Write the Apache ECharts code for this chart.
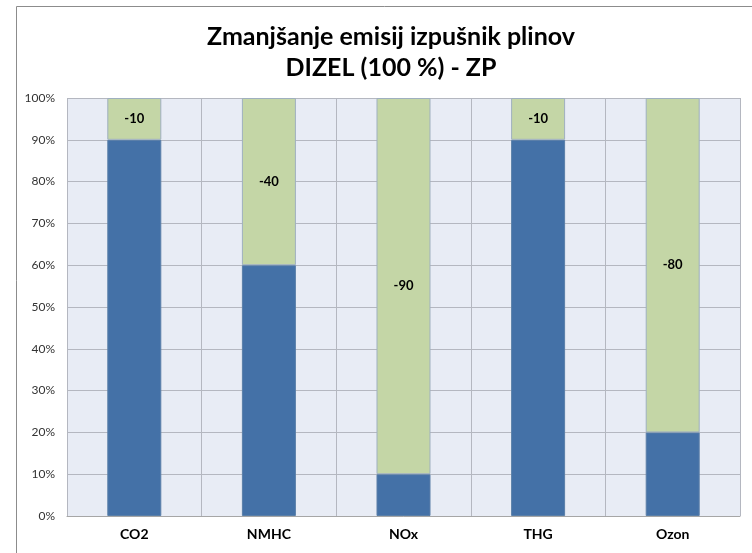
<!DOCTYPE html>
<html>
<head>
<meta charset="utf-8">
<script src="https://cdn.jsdelivr.net/npm/echarts@6/dist/echarts.min.js"></script>
<style>
  html, body { margin: 0; padding: 0; background: #fff; }
  #chart { width: 752px; height: 553px; }
</style>
</head>
<body>
<div id="chart"></div>
<script>
// podatki
var categories = ['CO2', 'NMHC', 'NOx', 'THG', 'Ozon']
var remaining = [90, 60, 10, 90, 20]
var reduction = [10, 40, 90, 10, 80]
var reductionLabels = ['-10', '-40', '-90', '-10', '-80']
var yTicks = [0, 10, 20, 30, 40, 50, 60, 70, 80, 90, 100]

var chart = echarts.init(document.getElementById('chart'))
chart.setOption({
  animation: false,
  title: {
    text: 'Zmanjšanje emisij izpušnik plinov\nDIZEL (100 %) - ZP',
    left: 386,
    textAlign: 'center',
    top: 16,
    textStyle: {
      fontFamily: 'Lato',
      fontSize: 25,
      fontWeight: 'bold',
      color: '#000',
      lineHeight: 31
    }
  },
  graphic: [
    {
      type: 'rect',
      shape: { x: 16.5, y: 6.5, width: 760, height: 600 },
      style: { fill: 'none', stroke: '#8c8c8c', lineWidth: 1 },
      z: -10
    }
  ],
  grid: {
    left: 67,
    right: 12,
    top: 98,
    bottom: 37,
    show: true,
    backgroundColor: '#e8ecf5',
    borderWidth: 0
  },
  xAxis: {
    type: 'category',
    data: categories,
    axisTick: { show: false },
    axisLine: { show: true, lineStyle: { color: '#a6a6a6', width: 1 } },
    splitLine: { show: true, lineStyle: { color: '#b4b7c0', width: 1 } },
    axisLabel: {
      margin: 11,
      fontFamily: 'Lato',
      fontSize: 14,
      fontWeight: 'bold',
      color: '#000'
    }
  },
  yAxis: {
    type: 'value',
    min: yTicks[0],
    max: yTicks[yTicks.length - 1],
    interval: 10,
    axisLine: { show: false },
    axisTick: { show: false },
    splitLine: { show: true, lineStyle: { color: '#b4b7c0', width: 1 } },
    axisLabel: {
      margin: 12,
      fontFamily: 'Lato',
      fontSize: 12,
      color: '#333',
      formatter: function(v) { return v + '%' }
    }
  },
  series: [
    {
      name: 'ostanek',
      type: 'bar',
      stack: 'total',
      barWidth: 54,
      data: remaining,
      itemStyle: { color: '#4471a7', borderColor: '#5a7fa8', borderWidth: 1 }
    },
    {
      name: 'zmanjšanje',
      type: 'bar',
      stack: 'total',
      barWidth: 54,
      data: reduction,
      itemStyle: { color: '#c4d6a6', borderColor: '#9fb0bf', borderWidth: 1 },
      label: {
        show: true,
        position: 'inside',
        fontFamily: 'Lato',
        fontSize: 13,
        fontWeight: 'bold',
        color: '#000',
        formatter: function(p) { return reductionLabels[p.dataIndex] }
      }
    }
  ]
})
</script>
</body>
</html>
